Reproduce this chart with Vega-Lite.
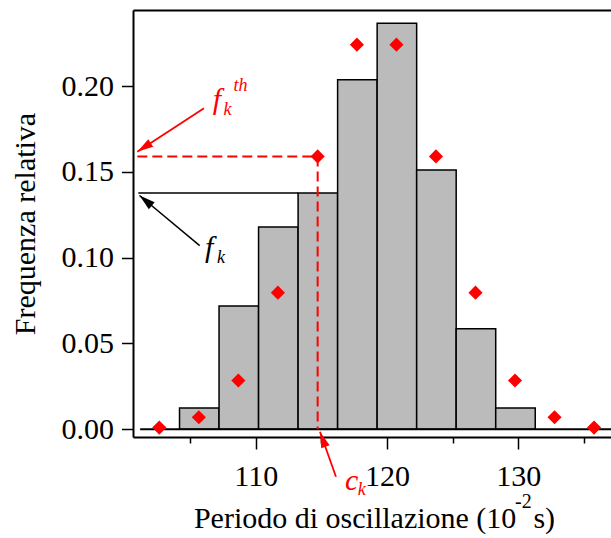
{
  "$schema": "https://vega.github.io/schema/vega-lite/v6.json",
  "width": 478,
  "height": 427,
  "autosize": {"type": "none"},
  "padding": {"left": 133, "top": 10, "right": 0, "bottom": 101},
  "background": "white",
  "config": {
    "font": "Liberation Serif",
    "view": {"stroke": null},
    "axis": {"grid": false, "labelColor": "black", "titleColor": "black", "tickColor": "black", "domainColor": "black", "labelFont": "Liberation Serif", "titleFont": "Liberation Serif", "titleFontWeight": "normal"}
  },
  "datasets": {
    "bars": [
      {"x0": 104.20, "x1": 107.21, "f": 0.0124},
      {"x0": 107.21, "x1": 110.22, "f": 0.0718},
      {"x0": 110.22, "x1": 113.23, "f": 0.1178},
      {"x0": 113.23, "x1": 116.24, "f": 0.1376},
      {"x0": 116.24, "x1": 119.25, "f": 0.2036},
      {"x0": 119.25, "x1": 122.26, "f": 0.2365},
      {"x0": 122.26, "x1": 125.27, "f": 0.151},
      {"x0": 125.27, "x1": 128.28, "f": 0.0586},
      {"x0": 128.28, "x1": 131.29, "f": 0.0124}
    ],
    "theory": [
      {"c": 102.66, "f": 0.001},
      {"c": 105.67, "f": 0.007},
      {"c": 108.68, "f": 0.0284},
      {"c": 111.69, "f": 0.0796},
      {"c": 114.72, "f": 0.159},
      {"c": 117.71, "f": 0.2241},
      {"c": 120.72, "f": 0.2241},
      {"c": 123.73, "f": 0.159},
      {"c": 126.74, "f": 0.0796},
      {"c": 129.75, "f": 0.0284},
      {"c": 132.76, "f": 0.007},
      {"c": 135.77, "f": 0.001}
    ],
    "baseline": [{"x": 101.2, "x2": 137.06, "y": 0}],
    "fkline": [{"x": 101.06, "x2": 113.23, "y": 0.1376}],
    "reddash": [
      {"x": 100.985, "x2": 114.72, "y": 0.159, "y2": 0.159},
      {"x": 114.72, "x2": 114.72, "y": 0.159, "y2": 0}
    ],
    "arrowFth": [{"x": 106.063, "y": 0.18701, "x2": 100.985, "y2": 0.16172}],
    "arrowFk": [{"x": 105.736, "y": 0.10702, "x2": 101.152, "y2": 0.13621}],
    "arrowCk": [{"x": 116.114, "y": -0.02761, "x2": 114.896, "y2": -0.0014}],
    "bigRed": [
      {"x": 107.053, "y": 0.18663, "t": "f"},
      {"x": 117.31, "y": -0.03536, "t": "c"}
    ],
    "smallRed": [
      {"x": 107.853, "y": 0.18311, "t": "k"},
      {"x": 108.85, "y": 0.19738, "t": "th"},
      {"x": 118.07, "y": -0.03827, "t": "k"}
    ],
    "bigBlack": [{"x": 106.459, "y": 0.10032, "t": "f"}],
    "smallBlack": [{"x": 107.358, "y": 0.09671, "t": "k"}],
    "xtitleLeft": [{"x": 129.853, "y": -0.0575, "t": "Periodo di oscillazione (10"}],
    "xtitleRight": [{"x": 131.152, "y": -0.0575, "t": "s)"}],
    "sup": [{"x": 130.39, "y": -0.0458, "t": "-2"}]
  },
  "resolve": {"axis": {"x": "independent", "y": "independent"}},
  "layer": [
    {
      "data": {"name": "bars"},
      "mark": {"type": "bar", "fill": "#bbbbbb", "stroke": "black", "strokeWidth": 1.5},
      "encoding": {
        "x": {"field": "x0", "type": "quantitative",
          "scale": {"domain": [100.657, 137.06], "nice": false, "zero": false},
          "axis": {"orient": "bottom", "values": [110, 120, 130], "tickSize": 12, "tickWidth": 1.5, "domainWidth": 2, "labelFontSize": 30, "labelPadding": 12, "labelFlush": false, "title": null}},
        "x2": {"field": "x1"},
        "y": {"field": "f", "type": "quantitative",
          "scale": {"domain": [-0.004486, 0.24428], "nice": false, "zero": false},
          "axis": {"orient": "left", "values": [0, 0.05, 0.1, 0.15, 0.2], "format": ".2f", "tickSize": 11.5, "tickWidth": 1.5, "domainWidth": 2, "labelFontSize": 30, "labelPadding": 8, "labelFlush": false,
            "title": "Frequenza relativa", "titleFontSize": 30, "titlePadding": 21}},
        "y2": {"datum": 0}
      }
    },
    {
      "data": {"name": "baseline"},
      "mark": {"type": "rule", "color": "black", "strokeWidth": 2},
      "encoding": {
        "x": {"field": "x", "type": "quantitative",
          "axis": {"orient": "bottom", "values": [105, 115, 125, 135], "tickSize": 6, "tickWidth": 1.5, "labels": false, "domain": false, "title": null}},
        "x2": {"field": "x2"},
        "y": {"field": "y", "type": "quantitative", "axis": null}
      }
    },
    {
      "data": {"name": "fkline"},
      "mark": {"type": "rule", "color": "black", "strokeWidth": 1.5},
      "encoding": {
        "x": {"field": "x", "type": "quantitative",
          "axis": {"orient": "top", "ticks": false, "labels": false, "domain": true, "domainWidth": 2, "title": null}},
        "x2": {"field": "x2"},
        "y": {"field": "y", "type": "quantitative", "axis": null}
      }
    },
    {
      "data": {"name": "reddash"},
      "mark": {"type": "rule", "color": "#ff0000", "strokeWidth": 2, "strokeDash": [10, 5]},
      "encoding": {
        "x": {"field": "x", "type": "quantitative", "axis": null},
        "x2": {"field": "x2"},
        "y": {"field": "y", "type": "quantitative", "axis": null},
        "y2": {"field": "y2"}
      }
    },
    {
      "data": {"name": "theory"},
      "mark": {"type": "point", "shape": "diamond", "filled": true, "color": "#ff0000", "size": 200, "opacity": 1},
      "encoding": {
        "x": {"field": "c", "type": "quantitative", "axis": null},
        "y": {"field": "f", "type": "quantitative", "axis": null}
      }
    },
    {
      "data": {"name": "arrowFth"},
      "mark": {"type": "rule", "color": "#ff0000", "strokeWidth": 1.8},
      "encoding": {
        "x": {"field": "x", "type": "quantitative", "axis": null},
        "x2": {"field": "x2"},
        "y": {"field": "y", "type": "quantitative", "axis": null},
        "y2": {"field": "y2"}
      }
    },
    {
      "data": {"name": "arrowFth"},
      "mark": {"type": "point", "shape": "M0,0L0.28,1L-0.28,1Z", "filled": true, "color": "#ff0000", "size": 1024, "opacity": 1, "angle": 237},
      "encoding": {
        "x": {"field": "x2", "type": "quantitative", "axis": null},
        "y": {"field": "y2", "type": "quantitative", "axis": null}
      }
    },
    {
      "data": {"name": "arrowFk"},
      "mark": {"type": "rule", "color": "black", "strokeWidth": 1.5},
      "encoding": {
        "x": {"field": "x", "type": "quantitative", "axis": null},
        "x2": {"field": "x2"},
        "y": {"field": "y", "type": "quantitative", "axis": null},
        "y2": {"field": "y2"}
      }
    },
    {
      "data": {"name": "arrowFk"},
      "mark": {"type": "point", "shape": "M0,0L0.28,1L-0.28,1Z", "filled": true, "color": "black", "size": 1024, "opacity": 1, "angle": 310},
      "encoding": {
        "x": {"field": "x2", "type": "quantitative", "axis": null},
        "y": {"field": "y2", "type": "quantitative", "axis": null}
      }
    },
    {
      "data": {"name": "arrowCk"},
      "mark": {"type": "rule", "color": "#ff0000", "strokeWidth": 1.8},
      "encoding": {
        "x": {"field": "x", "type": "quantitative", "axis": null},
        "x2": {"field": "x2"},
        "y": {"field": "y", "type": "quantitative", "axis": null},
        "y2": {"field": "y2"}
      }
    },
    {
      "data": {"name": "arrowCk"},
      "mark": {"type": "point", "shape": "M0,0L0.28,1L-0.28,1Z", "filled": true, "color": "#ff0000", "size": 1024, "opacity": 1, "angle": 340},
      "encoding": {
        "x": {"field": "x2", "type": "quantitative", "axis": null},
        "y": {"field": "y2", "type": "quantitative", "axis": null}
      }
    },
    {
      "data": {"name": "bigRed"},
      "mark": {"type": "text", "color": "#ff0000", "fontSize": 30, "fontStyle": "italic", "align": "center", "baseline": "alphabetic"},
      "encoding": {
        "x": {"field": "x", "type": "quantitative", "axis": null},
        "y": {"field": "y", "type": "quantitative", "axis": null},
        "text": {"field": "t"}
      }
    },
    {
      "data": {"name": "smallRed"},
      "mark": {"type": "text", "color": "#ff0000", "fontSize": 18, "fontStyle": "italic", "align": "center", "baseline": "alphabetic"},
      "encoding": {
        "x": {"field": "x", "type": "quantitative", "axis": null},
        "y": {"field": "y", "type": "quantitative", "axis": null},
        "text": {"field": "t"}
      }
    },
    {
      "data": {"name": "bigBlack"},
      "mark": {"type": "text", "color": "black", "fontSize": 30, "fontStyle": "italic", "align": "center", "baseline": "alphabetic"},
      "encoding": {
        "x": {"field": "x", "type": "quantitative", "axis": null},
        "y": {"field": "y", "type": "quantitative", "axis": null},
        "text": {"field": "t"}
      }
    },
    {
      "data": {"name": "smallBlack"},
      "mark": {"type": "text", "color": "black", "fontSize": 18, "fontStyle": "italic", "align": "center", "baseline": "alphabetic"},
      "encoding": {
        "x": {"field": "x", "type": "quantitative", "axis": null},
        "y": {"field": "y", "type": "quantitative", "axis": null},
        "text": {"field": "t"}
      }
    },
    {
      "data": {"name": "xtitleLeft"},
      "mark": {"type": "text", "color": "black", "fontSize": 30, "align": "right", "baseline": "alphabetic"},
      "encoding": {
        "x": {"field": "x", "type": "quantitative", "axis": null},
        "y": {"field": "y", "type": "quantitative", "axis": null},
        "text": {"field": "t"}
      }
    },
    {
      "data": {"name": "xtitleRight"},
      "mark": {"type": "text", "color": "black", "fontSize": 30, "align": "left", "baseline": "alphabetic"},
      "encoding": {
        "x": {"field": "x", "type": "quantitative", "axis": null},
        "y": {"field": "y", "type": "quantitative", "axis": null},
        "text": {"field": "t"}
      }
    },
    {
      "data": {"name": "sup"},
      "mark": {"type": "text", "color": "black", "fontSize": 20, "align": "center", "baseline": "alphabetic"},
      "encoding": {
        "x": {"field": "x", "type": "quantitative", "axis": null},
        "y": {"field": "y", "type": "quantitative", "axis": null},
        "text": {"field": "t"}
      }
    }
  ]
}
